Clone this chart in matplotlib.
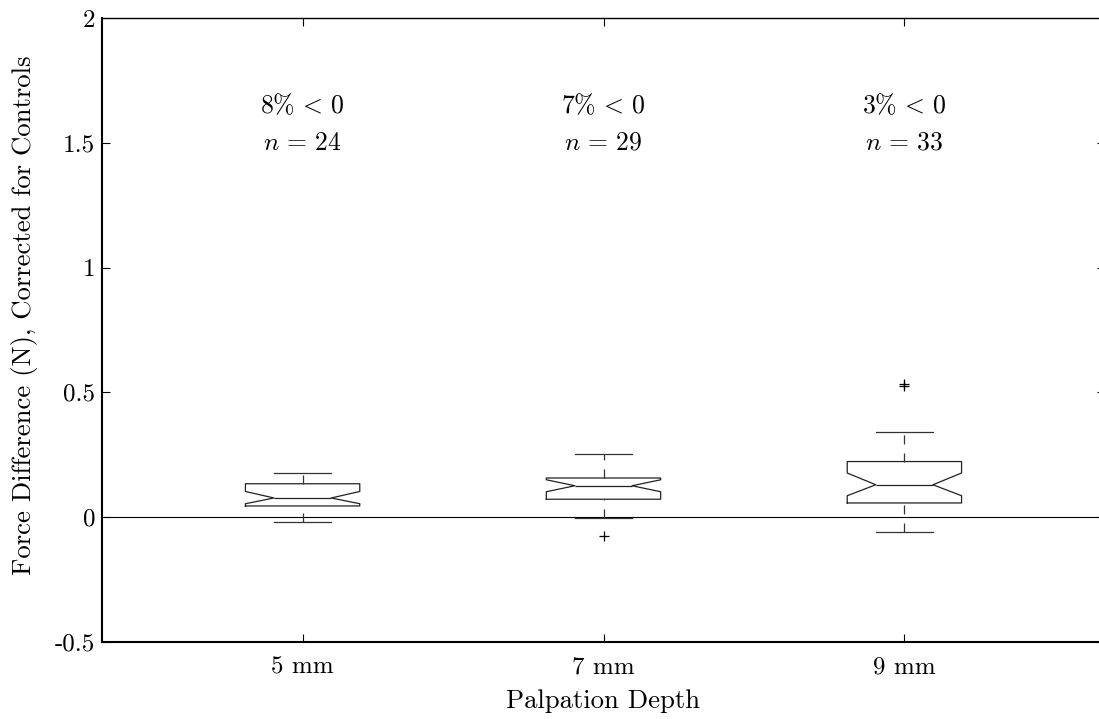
#! /usr/bin/env python

# import modules
# --------------
import matplotlib
matplotlib.use('Agg')
import matplotlib.pyplot as plt

# data --
depths = ['5 mm', '7 mm', '9 mm']
med = [0.077, 0.126, 0.130]
q1 = [0.045, 0.072, 0.057]
q3 = [0.134, 0.157, 0.223]
cilo = [0.054, 0.102, 0.086]
cihi = [0.103, 0.150, 0.177]
whislo = [-0.020, -0.002, -0.061]
whishi = [0.178, 0.254, 0.343]
fliers = [[], [-0.076], [0.527, 0.535]]
neg_pct = [8, 7, 3]
n_obs = [24, 29, 33]

yticks = [-0.5, 0, 0.5, 1, 1.5, 2]
yticklabels = ['-0.5', '0', '0.5', '1', '1.5', '2']

# font setting --
plt.rcParams['font.family'] = 'cmr10'
plt.rcParams['mathtext.fontset'] = 'cm'
plt.rcParams['axes.formatter.use_mathtext'] = True
plt.rcParams['axes.unicode_minus'] = False
plt.rcParams['lines.scale_dashes'] = False
fs_tick = 18
fs_label = 19.2
fs_text = 18.5

# figure --
fig = plt.figure(figsize=(10.99, 7.19), dpi=100)
ax = fig.add_axes([102/1099, 77/719, 1003/1099, 624/719])

# box stats --
stats = []
for i in range(len(depths)):
    stats.append(dict(med=med[i], q1=q1[i], q3=q3[i], cilo=cilo[i], cihi=cihi[i],
                      whislo=whislo[i], whishi=whishi[i], fliers=fliers[i]))

pos = [1, 2, 3]
bp = ax.bxp(stats, positions=pos, widths=0.38, shownotches=True, showfliers=True,
            boxprops=dict(color='#222222', lw=0.9),
            medianprops=dict(color='#222222', lw=0.9),
            whiskerprops=dict(color='#333333', lw=0.9, ls=(0, (6.5, 6.5))),
            capprops=dict(color='#333333', lw=0.9),
            flierprops=dict(marker='+', markersize=7, markeredgecolor='black',
                            markeredgewidth=0.9, linestyle='none'))

# lower whiskers are drawn from the cap upward --
for k, line in enumerate(bp['whiskers']):
    if k % 2 == 0:
        line.set_ydata(line.get_ydata()[::-1])

# zero line --
ax.axhline(0, color='black', lw=0.8, zorder=1)

# annotations --
for p, pc, n in zip(pos, neg_pct, n_obs):
    ax.text(p, 1.65, r'$' + str(pc) + r'\%\,<\,0$', ha='center', va='center', fontsize=fs_text)
    ax.text(p, 1.5, r'$n\,=\,' + str(n) + '$', ha='center', va='center', fontsize=fs_text)

# axes --
ax.set_xlim(1/3, 11/3)
ax.set_ylim(-0.5, 2)
ax.set_xticks(pos)
ax.set_xticklabels(depths, fontsize=fs_tick)
ax.set_yticks(yticks)
ax.set_yticklabels(yticklabels, fontsize=fs_tick)
ax.tick_params(direction='in', length=6, width=0.8, top=True, right=True)
ax.tick_params(axis='x', pad=10)
ax.tick_params(axis='y', pad=5)

ax.set_xlabel('Palpation Depth', fontsize=fs_label, labelpad=8)
ax.set_ylabel('Force Difference (N), Corrected for Controls', fontsize=fs_label)
ax.yaxis.set_label_coords(-0.064, 0.524)

ax.spines['left'].set_linewidth(1.5)
ax.spines['bottom'].set_linewidth(1.5)
ax.spines['top'].set_linewidth(1.0)
ax.spines['right'].set_linewidth(1.0)

fig.savefig('out.png', dpi=100)
